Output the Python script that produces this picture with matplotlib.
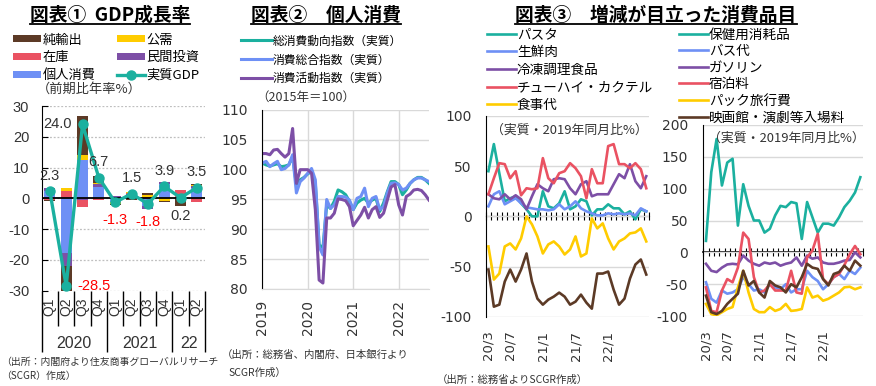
import numpy as np
import pandas as pd
import matplotlib
matplotlib.use('Agg')
import matplotlib.pyplot as plt
from matplotlib.lines import Line2D
from matplotlib.patches import Patch

plt.rcParams['font.family'] = ['Noto Sans CJK JP', 'DejaVu Sans']
plt.rcParams['axes.unicode_minus'] = False

# ---------------- Chart 1: GDP growth (annualised q/q %) ----------------
quarters = ['Q1', 'Q2', 'Q3', 'Q4', 'Q1', 'Q2', 'Q3', 'Q4', 'Q1', 'Q2']
year_names = ['2020', '2021', '22']
year_sizes = [4, 4, 2]
personal = [2.5, -17.6, 12.6, 3.7, -1.2, 0.8, -2.6, 4.8, 0.1, 3.4]
investment = [0.7, -4.4, -0.4, 0.8, 0.7, 0.6, -0.9, 0.4, -0.3, 0.6]
inventory = [-0.5, 2.3, -2.3, -0.6, 0.0, 0.3, 0.6, 0.0, 2.6, -1.2]
public = [0.0, 0.9, 1.4, 0.5, -0.5, 0.4, 0.6, -1.0, 0.0, 0.4]
net_exports = [-0.4, -9.7, 12.7, 2.3, -0.3, -0.6, 0.5, -0.3, -2.2, 0.3]
gdp = [2.3, -28.5, 24.0, 6.7, -1.3, 1.5, -1.8, 3.9, 0.2, 3.5]
gdp_label_side = ['above', 'right', 'left', 'above', 'below', 'above', 'below', 'above', 'below', 'above']

# ---------------- Chart 2: consumption indices (2015=100), monthly from 2019/1 ----------------
year_ticks2 = ['2019', '2020', '2021', '2022']
cons_trend = [101.1, 100.8, 100.6, 100.8, 101.0, 100.5, 100.6, 100.8, 102.2, 97.5,
              98.3, 98.7, 99.3, 99.7, 97.7, 87.4, 86.9, 94.1, 93.5, 94.7,
              96.6, 96.3, 95.8, 94.7, 93.3, 94.4, 94.9, 95.2, 94.4, 94.9,
              95.2, 93.0, 94.4, 96.3, 98.0, 98.0, 97.5, 95.8, 96.6, 97.7,
              98.3, 98.7, 98.7, 98.3, 97.7]
cons_total = [101.1, 101.4, 100.5, 101.0, 101.4, 100.0, 100.2, 100.8, 102.5, 96.1,
              98.0, 98.6, 99.4, 100.2, 98.3, 87.1, 85.7, 95.0, 93.5, 94.1,
              95.5, 95.5, 95.4, 94.9, 93.3, 95.2, 95.5, 96.9, 93.8, 95.2,
              95.5, 93.3, 93.8, 96.1, 97.7, 97.8, 97.5, 96.6, 96.9, 97.7,
              98.3, 98.6, 98.6, 98.3, 98.0]
cons_activity = [102.7, 102.7, 102.5, 103.3, 103.4, 102.7, 102.1, 102.7, 106.9, 97.7,
                 100.0, 100.0, 100.0, 99.4, 93.3, 81.5, 81.0, 91.9, 91.9, 92.7,
                 95.1, 95.0, 94.8, 93.8, 90.6, 91.5, 92.4, 93.7, 91.9, 93.3,
                 93.8, 92.0, 92.7, 94.9, 97.1, 97.5, 94.1, 92.4, 95.5, 95.9,
                 96.6, 96.7, 96.5, 95.8, 94.9]

# ---------------- Chart 3: items (real, vs same month 2019 %), monthly from 2020/3 ----------------
shown_months3 = ['20/3', '20/7', '21/1', '21/7', '22/1']
pasta = [45, 72, 43, 15, 18, 20, 13, 7, 0, 0, 25, 10, 8, 13, 25, 7, 10, 17, 15, 1,
         7, 7, 12, 8, 8, 2, 5, -3, 7, 5]
meat = [10, 22, 25, 12, 15, 18, 13, 9, 8, 7, 7, 6, 7, 12, 7, 10, 15, 8, 5, 3,
        1, 1, 3, 2, 3, 2, 3, 1, 8, 5]
frozen = [22, 18, 17, 22, 17, 21, 17, 7, 20, 32, 28, 25, 37, 38, 37, 28, 22, 32, 35, 20,
          22, 22, 22, 32, 42, 38, 52, 35, 28, 40]
chuhai = [22, 38, 53, 52, 38, 45, 21, 28, 27, 28, 58, 38, 33, 43, 45, 53, 48, 40, 18, 47,
          33, 33, 70, 72, 52, 52, 48, 53, 47, 28]
dining = [-30, -63, -57, -30, -27, -33, -22, 0, -8, -20, -37, -28, -25, -30, -38, -33, -20, -40, -37, -2,
          -12, -7, -22, -33, -25, -22, -17, -16, -12, -25]
other_left = [-53, -90, -88, -65, -53, -65, -53, -37, -65, -82, -88, -83, -80, -76, -80, -88, -85, -78, -86, -92,
              -57, -57, -55, -73, -88, -82, -62, -48, -43, -58]

health = [18, 126, 178, 105, 141, 147, 42, 107, 73, 50, 50, 31, 37, 58, 73, 71, 79, 77, 21, 79,
          55, 31, 45, 45, 42, 55, 71, 81, 94, 118]
bus = [-47, -73, -79, -60, -65, -63, -58, -39, -50, -60, -58, -63, -50, -55, -58, -50, -63, -58, -58, -29,
       -39, -45, -58, -50, -39, -34, -42, -29, -34, -24]
gasoline = [-18, -29, -31, -24, -19, -18, -19, -5, -13, -18, -21, -16, -18, -16, -21, -18, -16, -8, -21, -5,
            -10, -8, -16, -18, -18, -16, -13, -12, 0, -8]
hotel = [-55, -92, -94, -60, -42, -47, -24, 31, 21, -39, -63, -60, -50, -60, -60, -60, -29, -63, -65, -8,
         3, 29, -42, -50, -39, -34, -20, -3, 10, -3]
package = [-81, -97, -99, -94, -89, -86, -55, -29, -63, -89, -94, -94, -86, -92, -89, -81, -92, -91, -89, -55,
           -71, -68, -76, -73, -68, -63, -55, -54, -58, -55]
cinema = [-68, -94, -97, -92, -81, -73, -65, -29, -52, -45, -63, -71, -45, -52, -55, -63, -50, -55, -39, -18,
          -24, -26, -42, -52, -34, -31, -21, -29, -13, -21]

# ---------------- style ----------------
TEAL = '#1BB09F'
BLUE = '#6E90F5'
PURPLE = '#7D4FA6'
RED = '#EA5262'
YELLOW = '#FFCC00'
BROWN = '#5C3A26'
GRID = '#D9D9D9'
TXT = '#333333'
LAT = ['Liberation Sans', 'Noto Sans CJK JP']
VER = ['DejaVu Sans', 'Noto Sans CJK JP']

W, H = 876, 386
fig = plt.figure(figsize=(W / 100, H / 100), dpi=100)


def rect(l, t, r, b):
    return [l / W, 1 - b / H, (r - l) / W, (b - t) / H]


def ftext(x, y, s, **kw):
    return fig.text(x / W, 1 - y / H, s, **kw)


# ======================= Chart 1 =======================
ax1 = fig.add_axes(rect(41.7, 106, 205, 290.7))
n = len(quarters)
x = np.arange(n)
comps = [(personal, BLUE, '個人消費'), (investment, PURPLE, '民間投資'),
         (inventory, RED, '在庫'), (public, YELLOW, '公需'), (net_exports, BROWN, '純輸出')]
pos_base = np.zeros(n)
neg_base = np.zeros(n)
bars = {}
for vals, col, lab in comps:
    v = np.array(vals, dtype=float)
    bottoms = np.where(v >= 0, pos_base, neg_base)
    bars[lab] = ax1.bar(x, v, bottom=bottoms, width=0.68, color=col, label=lab, zorder=2)
    pos_base += np.where(v > 0, v, 0)
    neg_base += np.where(v < 0, v, 0)
ax1.axhline(0, color='black', lw=1.3, zorder=3)
gdp_line, = ax1.plot(x, gdp, color=TEAL, lw=2.4, marker='o', ms=6.5, zorder=4, label='実質GDP')

offs = {'above': ((0, 11), 'center', 'center'), 'below': ((0, -13), 'center', 'center'),
        'left': ((-8, 0), 'right', 'center'), 'right': ((8, 0), 'left', 'center')}
for xi, val, side in zip(x, gdp, gdp_label_side):
    (dx, dy), ha, va = offs[side]
    ax1.annotate(f'{val:.1f}', (xi, val), xytext=(dx, dy), textcoords='offset points',
                 ha=ha, va=va, fontsize=10.5, family=LAT,
                 color='#FF0000' if val < 0 else TXT, zorder=5)

ax1.set_xlim(-0.5, n - 0.5)
ax1.set_ylim(-30, 30)
ax1.set_yticks(np.arange(-30, 31, 10))
ax1.yaxis.grid(True, linestyle=(0, (1.5, 1.5)), color='#BFBFBF', lw=0.9)
ax1.set_axisbelow(True)
for s in ['top', 'right', 'bottom']:
    ax1.spines[s].set_visible(False)
ax1.spines['left'].set_color('black')
ax1.tick_params(axis='y', direction='in', length=4, pad=9, labelsize=10.5, labelcolor=TXT)
for lab in ax1.get_yticklabels():
    lab.set_family(LAT)
bounds = np.arange(n + 1) - 0.5
group_bounds = np.concatenate([[-0.5], np.cumsum(year_sizes) - 0.5])
ax1.set_xticks(group_bounds)
ax1.set_xticks(bounds, minor=True)
ax1.set_xticklabels([])
ax1.tick_params(axis='x', which='major', direction='out', length=44, width=1, color='black')
ax1.tick_params(axis='x', which='minor', direction='out', length=25, width=1, color='black')
for i, q in enumerate(quarters):
    ax1.text(i, -0.088, q, transform=ax1.get_xaxis_transform(), rotation=90,
             ha='center', va='center', fontsize=10, family=LAT, color=TXT)
start = 0
for yn, sz in zip(year_names, year_sizes):
    ax1.text(start + (sz - 1) / 2, -0.285, yn, transform=ax1.get_xaxis_transform(),
             ha='center', va='center', fontsize=11.5, family=LAT, color=TXT)
    start += sz

h1 = [bars['純輸出'], bars['在庫'], bars['個人消費'], bars['公需'], bars['民間投資'], gdp_line]
l1 = ['純輸出', '在庫', '個人消費', '公需', '民間投資', '実質GDP']
fig.legend(h1, l1, loc='upper left', bbox_to_anchor=(13 / W, 1 - 33.5 / H), ncol=2,
           frameon=False, fontsize=9.5, handlelength=2.1, handleheight=0.45,
           handletextpad=0.15, columnspacing=1.6, labelspacing=0.36, borderpad=0,
           borderaxespad=0)
ftext(37, 89, '（前期比年率%）', fontsize=9.5, va='center', ha='left', color=TXT)

# ======================= Chart 2 =======================
ax2 = fig.add_axes(rect(262.3, 110, 429, 289))
months2 = pd.date_range('2019-01-01', periods=len(cons_total), freq='MS')
x2 = np.arange(len(months2))
ln_t, = ax2.plot(x2, cons_trend, color=TEAL, lw=2.2, label='総消費動向指数（実質）')
ln_c, = ax2.plot(x2, cons_total, color=BLUE, lw=2.2, label='消費総合指数（実質）')
ln_a, = ax2.plot(x2, cons_activity, color=PURPLE, lw=2.2, label='消費活動指数（実質）')
ax2.set_xlim(0, len(x2) - 1)
ax2.set_ylim(80, 110)
ax2.set_yticks(np.arange(80, 111, 5))
jan_idx = [i for i, d in enumerate(months2) if d.month == 1]
ax2.set_xticks(jan_idx)
ax2.set_xticklabels(year_ticks2, rotation=90)
ax2.grid(True, color=GRID, lw=1)
ax2.set_axisbelow(True)
for s in ['top', 'right']:
    ax2.spines[s].set_visible(False)
ax2.spines['bottom'].set_color(GRID)
ax2.spines['left'].set_color('black')
ax2.tick_params(axis='y', length=0, pad=10.5, labelsize=10, labelcolor=TXT)
ax2.tick_params(axis='x', length=0, pad=8, labelsize=10, labelcolor=TXT)
for lab in ax2.get_xticklabels() + ax2.get_yticklabels():
    lab.set_family(VER)
fig.legend([ln_t, ln_c, ln_a], [ln_t.get_label(), ln_c.get_label(), ln_a.get_label()],
           loc='upper left', bbox_to_anchor=(241 / W, 1 - 34.5 / H), frameon=False,
           fontsize=8.5, handlelength=2.6, handletextpad=0.05, labelspacing=0.5,
           borderpad=0, borderaxespad=0)
ftext(256, 97, '（2015年＝100）', fontsize=9, va='center', ha='left', color=TXT)
ftext(222, 355, '（出所：総務省、内閣府、日本銀行より', fontsize=7.5, va='center', color=TXT)
ftext(228, 373, 'SCGR作成）', fontsize=7.5, va='center', color=TXT)

# ======================= Chart 3 =======================
months3 = pd.date_range('2020-03-01', periods=len(pasta), freq='MS')
labels3 = [f'{d.year % 100}/{d.month}' for d in months3]
x3 = np.arange(len(months3))
tick_idx3 = [labels3.index(s) for s in shown_months3]


def style3(ax, ymin, ymax, step, ypad):
    ax.set_xlim(-0.5, len(x3) - 0.5)
    ax.set_ylim(ymin, ymax)
    ax.set_yticks(np.arange(ymin, ymax + 1, step))
    ax.yaxis.grid(True, color=GRID, lw=1)
    ax.set_axisbelow(True)
    for s in ['top', 'right', 'bottom']:
        ax.spines[s].set_visible(False)
    ax.spines['left'].set_color('black')
    ax.tick_params(axis='y', length=0, pad=ypad, labelsize=10, labelcolor=TXT)
    ax.set_xticks(tick_idx3)
    ax.set_xticklabels(shown_months3, rotation=90)
    ax.tick_params(axis='x', length=0, pad=10, labelsize=9.5, labelcolor=TXT)
    for lab in ax.get_xticklabels() + ax.get_yticklabels():
        lab.set_family(VER)
    sec = ax.secondary_xaxis((0 - ymin) / (ymax - ymin))
    sec.set_xticks(np.arange(len(x3) + 1) - 0.5)
    sec.set_xticklabels([])
    sec.tick_params(axis='x', direction='inout', length=6, width=0.8, color='black')
    sec.spines['bottom'].set_color('black')
    sec.spines['bottom'].set_linewidth(1.2)
    ax.text(0.03, 0.93, '（実質・2019年同月比%）', transform=ax.transAxes, fontsize=9.3,
            ha='left', va='center', color=TXT)


axL = fig.add_axes(rect(485.7, 116, 649, 316.7))
lw3 = 1.9
hL = []
for vals, col, lab in [(pasta, TEAL, 'パスタ'), (meat, BLUE, '生鮮肉'), (frozen, PURPLE, '冷凍調理食品'),
                       (chuhai, RED, 'チューハイ・カクテル'), (dining, YELLOW, '食事代'),
                       (other_left, BROWN, '_nolegend_')]:
    ln, = axL.plot(x3, vals, color=col, lw=lw3, label=lab)
    if not lab.startswith('_'):
        hL.append(ln)
style3(axL, -100, 100, 50, 10)

axR = fig.add_axes(rect(703.3, 125, 863, 316))
hR = []
for vals, col, lab in [(health, TEAL, '保健用消耗品'), (bus, BLUE, 'バス代'), (gasoline, PURPLE, 'ガソリン'),
                       (hotel, RED, '宿泊料'), (package, YELLOW, 'パック旅行費'),
                       (cinema, BROWN, '映画館・演劇等入場料')]:
    ln, = axR.plot(x3, vals, color=col, lw=lw3, label=lab)
    hR.append(ln)
style3(axR, -100, 200, 50, 11)

fig.legend(hL, [h.get_label() for h in hL], loc='upper left', bbox_to_anchor=(487 / W, 1 - 27.5 / H),
           frameon=False, fontsize=9.8, handlelength=2.1, handletextpad=0.1, labelspacing=0.27,
           borderpad=0, borderaxespad=0)
fig.legend(hR, [h.get_label() for h in hR], loc='upper left', bbox_to_anchor=(679 / W, 1 - 27.5 / H),
           frameon=False, fontsize=9.8, handlelength=2.1, handletextpad=0.1, labelspacing=0.19,
           borderpad=0, borderaxespad=0)
ftext(437, 380, '（出所：総務省よりSCGR作成）', fontsize=7.5, va='center', color=TXT)
ftext(1, 362, '（出所：内閣府より住友商事グローバルリサーチ', fontsize=7.1, va='center', color=TXT)
ftext(1, 376, '（SCGR）作成）', fontsize=7.1, va='center', color=TXT)

# ======================= Titles =======================
titles = [ftext(110, 15, '図表①  GDP成長率', fontsize=13.5, weight='bold', ha='center', va='center'),
          ftext(326, 15, '図表②　個人消費', fontsize=13.5, weight='bold', ha='center', va='center'),
          ftext(656, 15, '図表③　増減が目立った消費品目', fontsize=13.5, weight='bold', ha='center', va='center')]
fig.canvas.draw()
r = fig.canvas.get_renderer()
for t in titles:
    bb = t.get_window_extent(r)
    yline = bb.y0 + 1
    fig.add_artist(Line2D([bb.x0 / W, bb.x1 / W], [yline / H, yline / H],
                          transform=fig.transFigure, color='black', lw=1.3))

fig.savefig('out.png', dpi=100)
